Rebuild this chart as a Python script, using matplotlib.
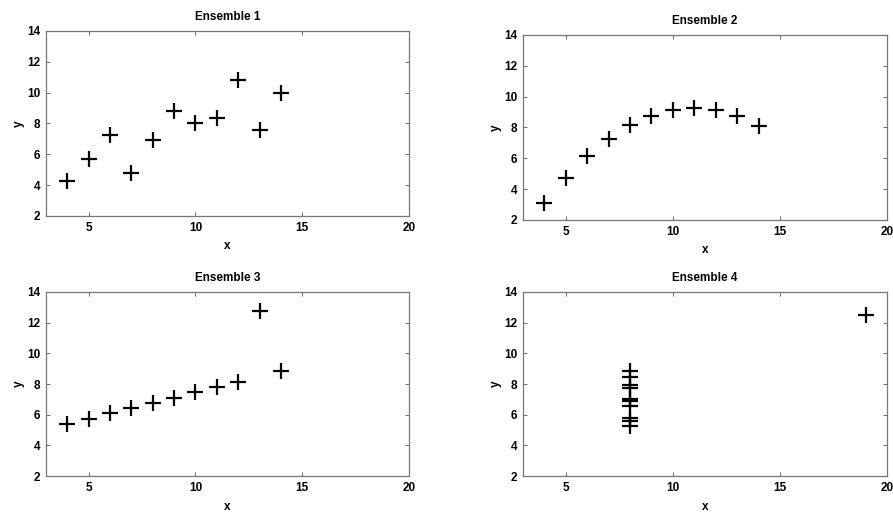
import matplotlib
matplotlib.use("Agg")
import matplotlib.pyplot as plt

plt.rcParams['font.family'] = ['Liberation Sans', 'DejaVu Sans']

# Anscombe-style data
x_123 = [10, 8, 13, 9, 11, 14, 6, 4, 12, 7, 5]
y1 = [8.04, 6.95, 7.58, 8.81, 8.33, 9.96, 7.24, 4.26, 10.84, 4.82, 5.68]
y2 = [9.14, 8.14, 8.74, 8.77, 9.26, 8.10, 6.13, 3.10, 9.13, 7.26, 4.74]
y3 = [7.46, 6.77, 12.74, 7.11, 7.81, 8.84, 6.08, 5.39, 8.15, 6.42, 5.73]
x4 = [8, 8, 8, 8, 8, 8, 8, 19, 8, 8, 8]
y4 = [6.58, 5.76, 7.71, 8.84, 8.47, 7.04, 5.25, 12.50, 5.56, 7.91, 6.89]

titles = ['Ensemble 1', 'Ensemble 2', 'Ensemble 3', 'Ensemble 4']
xs = [x_123, x_123, x_123, x4]
ys = [y1, y2, y3, y4]

# axes rectangles (left, bottom, width, height) in figure fraction
rects = [
    (0.0515, 0.579, 0.4065, 0.3606),
    (0.5857, 0.5712, 0.4076, 0.3606),
    (0.0515, 0.0721, 0.4065, 0.3587),
    (0.5857, 0.0721, 0.4076, 0.3587),
]

fig = plt.figure(figsize=(8.93, 5.13), dpi=100)
for rect, x, y, t in zip(rects, xs, ys, titles):
    ax = fig.add_axes(rect)
    ax.plot(x, y, '+', color='black', markersize=12, markeredgewidth=1.6)
    ax.set_xlim(3, 20)
    ax.set_ylim(2, 14)
    ax.set_xticks([5, 10, 15, 20])
    ax.set_yticks([2, 4, 6, 8, 10, 12, 14])
    ax.tick_params(direction='in', top=True, right=True, length=3,
                   width=0.6, color='#555555', labelsize=8.5, pad=4)
    for lab in ax.get_xticklabels() + ax.get_yticklabels():
        lab.set_fontweight('bold')
    for s in ax.spines.values():
        s.set_color('#777777')
        s.set_linewidth(0.9)
    ax.set_title(t, fontsize=8.5, fontweight='bold', pad=8)
    ax.set_xlabel('x', fontsize=8.5, fontweight='bold', labelpad=5)
    ax.set_ylabel('y', fontsize=8.5, fontweight='bold', labelpad=2)

fig.savefig('out.png', dpi=100)
